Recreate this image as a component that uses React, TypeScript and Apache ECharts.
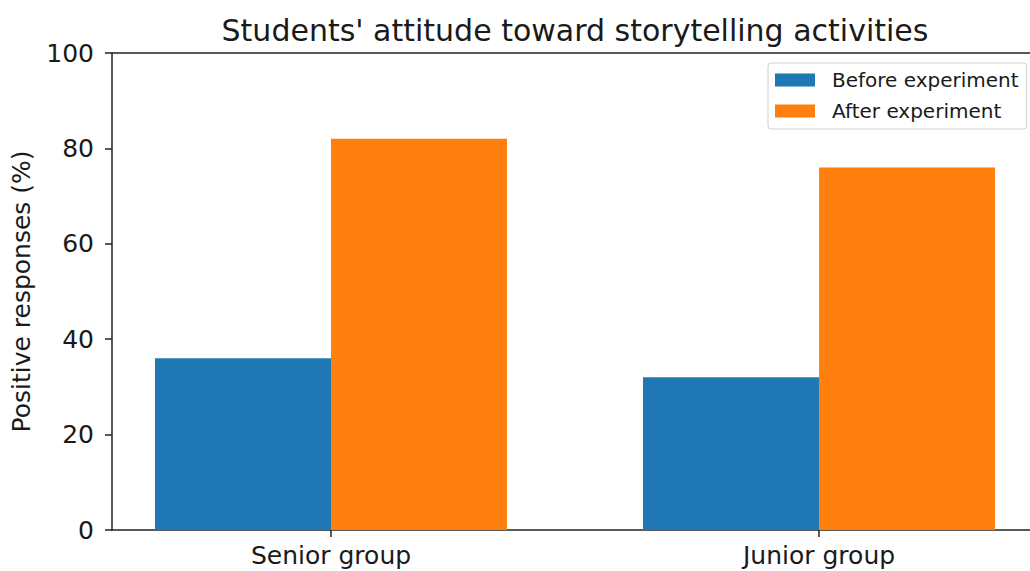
import React, { useEffect, useRef } from "react";
import * as echarts from "echarts";

const categories = ["Senior group", "Junior group"];
const beforeValues = [36, 32];
const afterValues = [82, 76];
const seriesNames = ["Before experiment", "After experiment"];
const yTicks = [0, 20, 40, 60, 80, 100];

const FONT = "DejaVu Sans";

export default function App() {
  const ref = useRef<HTMLDivElement>(null);
  useEffect(() => {
    if (!ref.current) return;
    const chart = echarts.init(ref.current, null, { renderer: "svg" });
    const catIdx = categories.map((_, i) => i);
    chart.setOption({
      animation: false,
      backgroundColor: "#ffffff",
      title: {
        text: "Students' attitude toward storytelling activities",
        left: 570,
        textAlign: "center",
        top: 10,
        textStyle: { fontFamily: FONT, fontSize: 30, fontWeight: "normal", color: "#1a1a1a" },
      },
      legend: {
        orient: "vertical",
        left: 768,
        top: 63,
        itemWidth: 40,
        itemHeight: 13,
        itemGap: 11,
        padding: [7, 8, 8, 7],
        borderColor: "#d0d0d0",
        borderWidth: 1,
        borderRadius: 3,
        backgroundColor: "rgba(255,255,255,0.8)",
        textStyle: { fontFamily: FONT, fontSize: 20, color: "#1a1a1a", padding: [0, 0, 0, 12] },
        data: seriesNames.map((n) => ({ name: n, icon: "rect" })),
      },
      grid: { left: 112, right: 0, top: 53, bottom: 41, containLabel: false },
      xAxis: {
        type: "value",
        min: -0.4488,
        max: 1.4323,
        splitLine: { show: false },
        axisLine: { show: true, onZero: false, lineStyle: { color: "#222", width: 1.5 } },
        axisTick: { show: true, customValues: catIdx, length: 7, lineStyle: { color: "#222", width: 1.5 } },
        axisLabel: {
          customValues: catIdx,
          formatter: (v: number) => categories[Math.round(v)] ?? "",
          fontFamily: FONT,
          fontSize: 25,
          color: "#1a1a1a",
          margin: 13,
        },
      },
      yAxis: {
        type: "value",
        min: 0,
        max: 100,
        interval: 20,
        name: "Positive responses (%)",
        nameLocation: "middle",
        nameGap: 78,
        nameTextStyle: { fontFamily: FONT, fontSize: 25, color: "#1a1a1a" },
        splitLine: { show: false },
        axisLine: { show: true, onZero: false, lineStyle: { color: "#222", width: 1.5 } },
        axisTick: { show: true, inside: false, length: 7, lineStyle: { color: "#222", width: 1.5 } },
        axisLabel: {
          fontFamily: FONT,
          fontSize: 25,
          color: "#1a1a1a",
          margin: 18,
          formatter: (v: number) => (yTicks.includes(v) ? String(v) : ""),
        },
      },
      graphic: [
        {
          type: "line",
          shape: { x1: 112, y1: 53, x2: 1040, y2: 53 },
          style: { stroke: "#222", lineWidth: 1.5 },
          z: 10,
        },
      ],
      series: [
        {
          name: seriesNames[0],
          type: "bar",
          barWidth: 176,
          barGap: "0%",
          itemStyle: { color: "#1f77b4" },
          data: beforeValues.map((v, i) => [i, v]),
        },
        {
          name: seriesNames[1],
          type: "bar",
          barWidth: 176,
          barGap: "0%",
          itemStyle: { color: "#ff7f0e" },
          data: afterValues.map((v, i) => [i, v]),
        },
      ],
    });
    return () => chart.dispose();
  }, []);
  return (
    <div
      ref={ref}
      style={{ position: "fixed", left: 0, top: 0, width: 1030, height: 571, background: "#fff" }}
    />
  );
}
